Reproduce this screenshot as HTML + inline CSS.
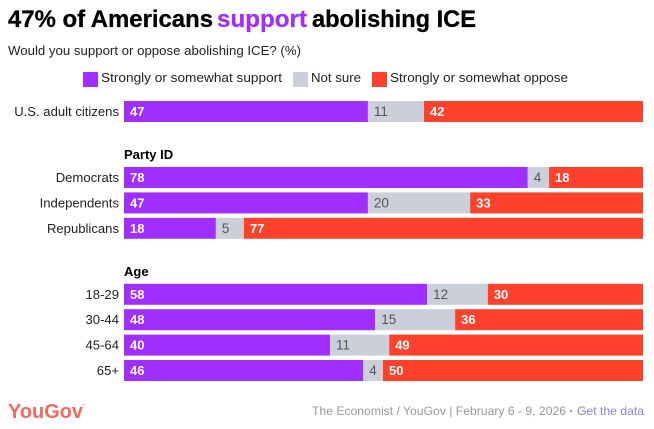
<!DOCTYPE html>
<html lang="en">
<head>
<meta charset="utf-8">
<title>47% of Americans support abolishing ICE</title>
<style>
html,body{margin:0;padding:0;background:#fff;width:654px;height:429px;overflow:hidden}
svg{display:block;font-family:"Liberation Sans",sans-serif}
</style>
</head>
<body>
<svg id="chart" xmlns="http://www.w3.org/2000/svg" width="654" height="429" viewBox="0 0 654 429">
  <rect width="654" height="429" fill="#ffffff"/>
  <text x="8" y="27" font-size="24" font-weight="700" fill="#000" stroke="#000" stroke-width="0.3" textLength="205" lengthAdjust="spacingAndGlyphs">47% of Americans</text>
  <text x="217" y="27" font-size="24" font-weight="700" fill="#a02fff" stroke="#a02fff" stroke-width="0.3" textLength="90" lengthAdjust="spacingAndGlyphs">support</text>
  <text x="312" y="27" font-size="24" font-weight="700" fill="#000" stroke="#000" stroke-width="0.3" textLength="164" lengthAdjust="spacingAndGlyphs">abolishing ICE</text>
  <text x="8" y="55" font-size="13" fill="#222" textLength="293" lengthAdjust="spacingAndGlyphs">Would you support or oppose abolishing ICE? (%)</text>

  <rect x="83" y="72" width="15" height="15" fill="#a02fff"/>
  <text x="101" y="82" font-size="13" fill="#222" textLength="181" lengthAdjust="spacingAndGlyphs">Strongly or somewhat support</text>
  <rect x="293" y="72" width="15" height="15" fill="#cacfda"/>
  <text x="311" y="82" font-size="13" fill="#222" textLength="50" lengthAdjust="spacingAndGlyphs">Not sure</text>
  <rect x="372" y="72" width="15" height="15" fill="#ff412c"/>
  <text x="390" y="82" font-size="13" fill="#222" textLength="178" lengthAdjust="spacingAndGlyphs">Strongly or somewhat oppose</text>

  <text x="124" y="159" font-size="13" font-weight="700" fill="#000">Party ID</text>
  <text x="124" y="276" font-size="13" font-weight="700" fill="#000">Age</text>

  <g id="rows"></g>

  <text x="8" y="418" font-size="20" font-weight="700" fill="#f4695d" textLength="75" lengthAdjust="spacingAndGlyphs">YouGov</text>
  <circle cx="84" cy="405" r="1" fill="#f9b3ac"/>
  <text x="312" y="415" font-size="12" fill="#999" textLength="254" lengthAdjust="spacingAndGlyphs">The Economist / YouGov | February 6 - 9, 2026</text>
  <circle cx="571" cy="411" r="1.2" fill="#999"/>
  <text x="577" y="415" font-size="12" fill="#8b84dc" textLength="67" lengthAdjust="spacingAndGlyphs">Get the data</text>
</svg>
<script>
const categories = ["U.S. adult citizens", "Democrats", "Independents", "Republicans", "18-29", "30-44", "45-64", "65+"];
const rowGroups = [0, 1, 1, 1, 2, 2, 2, 2];
const supportValues = [47.0, 77.8, 47.0, 17.7, 58.4, 48.4, 39.7, 46.1];
const notSureValues = [10.8, 4.1, 19.7, 5.4, 11.7, 15.4, 11.4, 3.8];
const opposeValues = [42.2, 18.1, 33.3, 76.9, 29.9, 36.2, 48.9, 50.1];

const plotLeft = 124, plotRight = 643, rowTop = 101, rowStep = 25.4, groupGap = 40.6, barHeight = 21;
const svgNS = "http://www.w3.org/2000/svg";
const rowsGroup = document.getElementById("rows");

function xScale(share) { return plotLeft + share * (plotRight - plotLeft); }
function yScale(i) { return rowTop + i * rowStep + rowGroups[i] * groupGap; }

function make(tag, attrs, parent) {
  const el = document.createElementNS(svgNS, tag);
  for (const k in attrs) el.setAttribute(k, attrs[k]);
  parent.appendChild(el);
  return el;
}

const seriesNames = ["support", "not-sure", "oppose"];
const seriesColors = ["#a02fff", "#cacfda", "#ff412c"];
const labelColors = ["#ffffff", "#555555", "#ffffff"];
const labelWeights = ["700", "400", "700"];
const labelSizes = [13, 13.5, 13];

categories.forEach(function (cat, i) {
  const y = yScale(i);
  const key = cat.toLowerCase().replace(/[^a-z0-9]+/g, "-");
  const catLabel = make("text", {x: 119, y: y + 15, "font-size": 13.1, "text-anchor": "end", fill: "#222"}, rowsGroup);
  
  
  catLabel.textContent = cat;

  const vals = [supportValues[i], notSureValues[i], opposeValues[i]];
  const total = vals[0] + vals[1] + vals[2];
  let cum = 0;
  vals.forEach(function (v, s) {
    const x0 = xScale(cum / total);
    const x1 = xScale((cum + v) / total);
    const bar = make("rect", {x: x0, y: y, width: x1 - x0, height: barHeight, fill: seriesColors[s]}, rowsGroup);
    
    
    const lab = make("text", {x: x0 + 6, y: y + 15, "font-size": labelSizes[s], "font-weight": labelWeights[s], fill: labelColors[s]}, rowsGroup);
    
    
    lab.textContent = Math.round(v);
    cum += v;
  });
});
</script>
</body>
</html>
